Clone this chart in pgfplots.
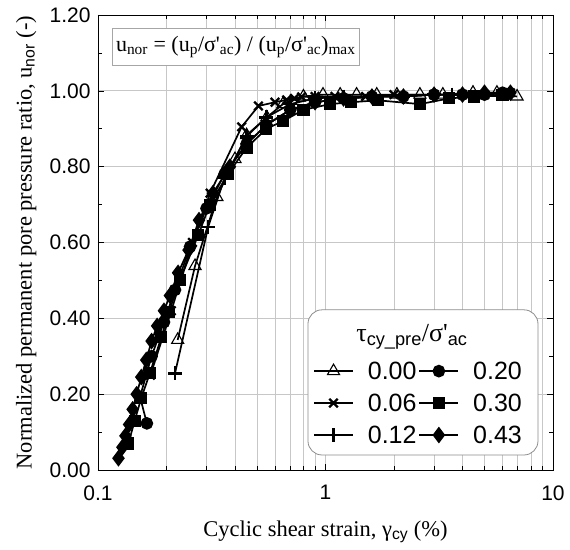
\documentclass[border=0pt]{standalone}
\usepackage{fontspec}
\setmainfont{Liberation Serif}
\setsansfont{Liberation Sans}
\usepackage{pgfplots}
\pgfplotsset{compat=1.18}
\newcommand{\ssub}[1]{\textsubscript{\sffamily #1}}
\begin{document}
\begin{tikzpicture}
\path[use as bounding box] (-98pt,-79pt) rectangle (472pt,470pt);
\begin{axis}[
  at={(0pt,0pt)}, anchor=south west,
  scale only axis, width=455pt, height=455pt,
  xmode=log, xmin=0.1, xmax=10, ymin=0, ymax=1.2,
  xtick={0.1,1,10}, xticklabels={0.1,1,10},
  ytick={0,0.2,0.4,0.6,0.8,1.0,1.2},
  yticklabel={\pgfmathprintnumber[fixed,fixed zerofill,precision=2]{\tick}},
  minor y tick num=1,
  /pgf/number format/assume math mode=true,
  tick align=inside,
  major tick length=6pt, minor tick length=4pt,
  xmajorgrids, xminorgrids, ymajorgrids,
  major grid style={black!22, line width=0.8pt},
  minor grid style={black!22, line width=0.8pt},
  axis line style={black, line width=0.8pt},
  tick style={black, line width=0.6pt},
  ticklabel style={font=\sffamily\fontsize{21}{25}\selectfont},
  xticklabel shift=12pt,
  y tick label style={xshift=-4pt},
  xlabel={Cyclic shear strain, γ\ssub{cy} (\%)},
  ylabel={Normalized permanent pore pressure ratio, u\ssub{nor} (-)},
  label style={font=\fontsize{22.5}{26}\selectfont},
  xlabel style={at={(axis description cs:0.5,-0.136)}, anchor=center},
  ylabel style={at={(axis description cs:-0.158,0.5)}, anchor=center},
  legend style={at={(rel axis cs:0.4725,0.243)}, anchor=north west, draw=none, fill=none,
    legend columns=2, font=\sffamily\fontsize{25}{29}\selectfont, row sep=9pt, inner sep=0pt,
    /tikz/every odd column/.append style={column sep=12pt},
    /tikz/every even column/.append style={column sep=0pt}},
  legend image code/.code={\draw[mark repeat=2,mark phase=2] plot coordinates {(0pt,0pt) (19.5pt,0pt) (39pt,0pt)};},
]
% legend box background
\draw[black!45, fill=white, rounded corners=14pt, line width=0.8pt] (rel axis cs:0.4615,0.033) rectangle (rel axis cs:0.967,0.352);
\node[font=\fontsize{26}{30}\selectfont, anchor=center] at (rel axis cs:0.69,0.293) {τ\ssub{cy\_pre}/σ\textquotesingle\ssub{ac}};
% annotation
\node[draw=black!35, fill=white, anchor=north west, inner xsep=4pt, minimum height=37pt, line width=0.8pt,
  font=\fontsize{22}{26}\selectfont] at (rel axis cs:0.030,0.971)
  {u\textsubscript{nor} = (u\textsubscript{p}/σ\textquotesingle\textsubscript{ac}) / (u\textsubscript{p}/σ\textquotesingle\textsubscript{ac})\textsubscript{max}};

% 0.00 triangle
\addplot[black, solid, line width=1.7pt, mark=triangle, mark size=7pt, mark options={fill=white, solid, line width=1.1pt}] coordinates {
(0.224,0.343)(0.267,0.538)(0.333,0.72)(0.40,0.82)(0.45,0.883)(0.552,0.93)(0.65,0.965)(0.80,0.985)(0.975,0.99)(1.16,0.99)(1.37,0.99)(1.68,0.99)(2.06,0.99)(2.60,0.99)(3.28,0.99)(4.45,0.995)(5.67,0.995)(6.95,0.985)};
\addlegendentry{0.00}
% 0.20 circle
\addplot[black, solid, line width=1.7pt, mark=*, mark size=5.5pt, mark options={fill=black, solid}] coordinates {
(0.164,0.123)(0.153,0.193)(0.172,0.30)(0.195,0.39)(0.218,0.475)(0.254,0.589)(0.30,0.69)(0.36,0.78)(0.45,0.86)(0.55,0.91)(0.7,0.95)(0.9,0.97)(1.2,0.98)(1.6,0.985)(2.2,0.985)(3.0,0.99)(4.0,0.99)(5.0,0.99)(6.0,0.995)};
\addlegendentry{0.20}
% 0.06 x
\addplot[black, solid, line width=1.7pt, mark=x, mark size=6pt, mark options={solid, line width=2.3pt}] coordinates {
(0.17,0.25)(0.21,0.42)(0.26,0.60)(0.311,0.73)(0.428,0.905)(0.507,0.96)(0.60,0.97)(0.675,0.976)(0.73,0.98)(0.786,0.984)(0.9,0.985)(1.1,0.985)(1.5,0.985)(2.0,0.99)(3.0,0.99)(4.0,0.99)(5.0,0.99)(6.5,0.995)};
\addlegendentry{0.06}
% 0.30 square
\addplot[black, solid, line width=1.7pt, mark=square*, mark size=5.2pt, mark options={fill=black, solid}] coordinates {
(0.136,0.07)(0.145,0.13)(0.155,0.19)(0.169,0.255)(0.19,0.351)(0.205,0.417)(0.229,0.50)(0.276,0.62)(0.31,0.70)(0.374,0.782)(0.45,0.85)(0.55,0.90)(0.65,0.92)(0.8,0.95)(1.05,0.965)(1.3,0.97)(1.7,0.975)(2.6,0.965)(3.5,0.98)(4.5,0.985)(6.0,0.99)};
\addlegendentry{0.30}
% 0.12 plus
\addplot[black, solid, line width=1.7pt, mark=+, mark size=7pt, mark options={solid, line width=2.6pt}] coordinates {
(0.218,0.255)(0.305,0.641)(0.36,0.77)(0.45,0.88)(0.55,0.93)(0.7,0.965)(0.9,0.98)(1.2,0.985)(1.6,0.985)(2.2,0.985)(3.0,0.99)(3.6,0.99)};
\addlegendentry{0.12}
% 0.43 diamond
\addplot[black, solid, line width=1.7pt, mark=diamond*, mark size=7pt, mark options={fill=black, solid}] coordinates {
(0.123,0.031)(0.128,0.06)(0.132,0.09)(0.137,0.12)(0.142,0.16)(0.148,0.20)(0.155,0.245)(0.163,0.29)(0.172,0.34)(0.182,0.38)(0.195,0.42)(0.207,0.46)(0.225,0.52)(0.25,0.58)(0.278,0.659)(0.32,0.73)(0.38,0.80)(0.45,0.86)(0.55,0.91)(0.7,0.95)(0.9,0.97)(1.2,0.98)(1.6,0.985)(2.2,0.985)(3.0,0.99)(4.0,0.99)(5.0,0.995)(6.5,0.995)};
\addlegendentry{0.43}
\end{axis}
\end{tikzpicture}
\end{document}
